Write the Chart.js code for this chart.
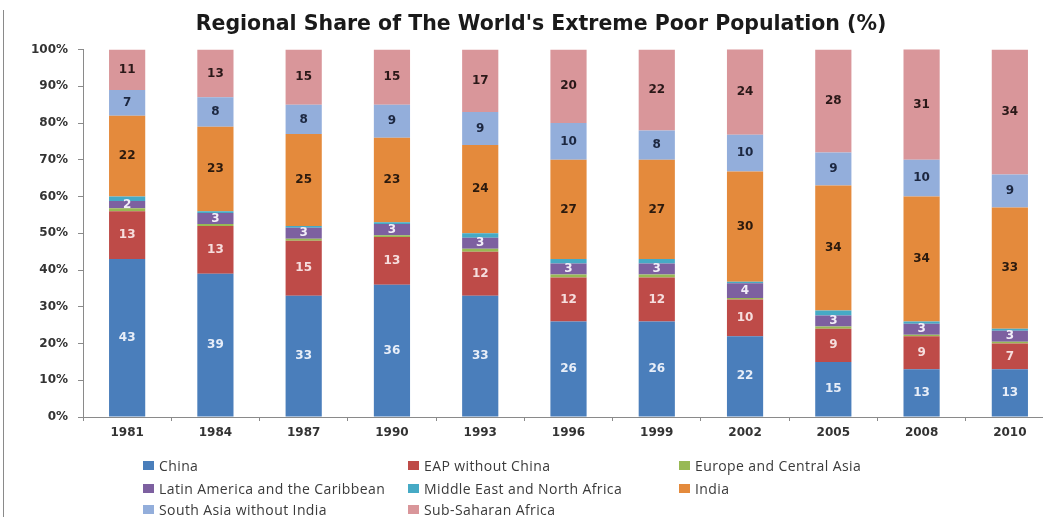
<!DOCTYPE html>
<html>
<head>
<meta charset="utf-8">
<script src="https://cdn.jsdelivr.net/npm/chart.js@4.4.1/dist/chart.umd.min.js"></script>
<style>
    html, body { margin: 0; padding: 0; background: #fff; overflow: hidden; }
    #page { position: relative; width: 1043px; height: 517px; overflow: hidden; }
    #frame { position: absolute; left: 3px; top: 10px; bottom: 0; border-left: 1px solid #8a8a8a; }
    #wrap { position: absolute; left: 0; top: 0; width: 1070px; height: 445px; }
    #legend { position: absolute; left: 0; top: 0; width: 1043px; height: 517px; pointer-events: none; }
    .leg-item {
        position: absolute; display: flex; align-items: center;
        font-family: "Open Sans", Lato, sans-serif; font-size: 14px; color: #3a3a3a;
        white-space: nowrap; letter-spacing: 0.4px;
    }
    .leg-box { width: 11px; height: 9px; margin-right: 5px; }
</style>
</head>
<body>
<div id="page">
    <div id="frame"></div>
    <div id="wrap"><canvas id="povertyChart"></canvas></div>
    <div id="legend"></div>
</div>
<script>
// Годы и доли регионов (%)
const years = ['1981', '1984', '1987', '1990', '1993', '1996', '1999', '2002', '2005', '2008', '2010'];

const china        = [43, 39, 33, 36, 33, 26, 26, 22, 15, 13, 13];
const eapNoChina   = [13, 13, 15, 13, 12, 12, 12, 10, 9, 9, 7];
const europeCA     = [0.8, 0.5, 0.5, 0.5, 0.8, 0.8, 0.8, 0.4, 0.6, 0.4, 0.5];
const latinAmerica = [2, 3, 3, 3, 3, 3, 3, 4, 3, 3, 3];
const middleEastNA = [1.2, 0.5, 0.5, 0.5, 1.2, 1.2, 1.2, 0.4, 1.4, 0.6, 0.5];
const india        = [22, 23, 25, 23, 24, 27, 27, 30, 34, 34, 33];
const southAsia    = [7, 8, 8, 9, 9, 10, 8, 10, 9, 10, 9];
const subSaharan   = [11, 13, 15, 15, 17, 20, 22, 24, 28, 31, 34];

const yTicks = [0, 10, 20, 30, 40, 50, 60, 70, 80, 90, 100];

const AXIS_FONT = { family: '"DejaVu Sans", sans-serif', size: 12, weight: 'bold' };
const PAD_LEFT = 28;

function series(label, data, color, labelColor) {
    return {
        label,
        data,
        backgroundColor: color,
        borderWidth: 0,
        barPercentage: 0.41,
        categoryPercentage: 1,
        labelColor // null = без подписей
    };
}

const datasets = [
    series('China', china, '#4a7ebb', '#e8eef8'),
    series('EAP without China', eapNoChina, '#be4b48', '#f6dede'),
    series('Europe and Central Asia', europeCA, '#98b954', null),
    series('Latin America and the Caribbean', latinAmerica, '#7d60a0', '#f2eef8'),
    series('Middle East and North Africa', middleEastNA, '#46aac5', null),
    series('India', india, '#e48a3c', '#2b1a0e'),
    series('South Asia without India', southAsia, '#93aedb', '#1c2740'),
    series('Sub-Saharan Africa', subSaharan, '#d9969a', '#2a1818')
];

// Подписи значений в центре сегментов
const segmentLabels = {
    id: 'segmentLabels',
    afterDatasetsDraw(chart) {
        const ctx = chart.ctx;
        ctx.save();
        ctx.font = 'bold 12px "DejaVu Sans", sans-serif';
        ctx.textAlign = 'center';
        ctx.textBaseline = 'middle';
        chart.data.datasets.forEach((ds, i) => {
            if (!ds.labelColor) return;
            const meta = chart.getDatasetMeta(i);
            ctx.fillStyle = ds.labelColor;
            meta.data.forEach((bar, j) => {
                const yTop = Math.max(bar.y, chart.chartArea.top);
                ctx.fillText(String(ds.data[j]), bar.x, (yTop + bar.base) / 2);
            });
        });
        ctx.restore();
    }
};

const ctx = document.getElementById('povertyChart').getContext('2d');
const chart = new Chart(ctx, {
    type: 'bar',
    data: { labels: years, datasets },
    plugins: [segmentLabels],
    options: {
        responsive: true,
        maintainAspectRatio: false,
        animation: false,
        layout: { padding: { left: PAD_LEFT, right: 16, top: 0, bottom: 0 } },
        plugins: {
            legend: { display: false },
            tooltip: { enabled: false },
            title: {
                display: true,
                text: "Regional Share of The World's Extreme Poor Population (%)",
                color: '#1a1a1a',
                font: { family: '"DejaVu Sans", sans-serif', size: 20.5, weight: 'bold', lineHeight: 1.2 },
                padding: { top: 12, bottom: 13 }
            }
        },
        scales: {
            x: {
                stacked: true,
                grid: { display: true, drawOnChartArea: false, offset: true, color: '#8a8a8a', tickLength: 4 },
                border: { color: '#8a8a8a' },
                ticks: { color: '#333', font: AXIS_FONT, padding: 5 },
                afterFit(scale) { scale.height = 28; }
            },
            y: {
                stacked: true,
                min: 0,
                max: 100,
                afterBuildTicks(scale) { scale.ticks = yTicks.map(v => ({ value: v })); },
                grid: { display: true, drawOnChartArea: false, color: '#8a8a8a', tickLength: 5 },
                border: { color: '#8a8a8a' },
                ticks: { color: '#333', font: AXIS_FONT, padding: 10, callback: (v) => v + '%' },
                afterFit(scale) { scale.width = 83 - PAD_LEFT; }
            }
        }
    }
});

// Легенда: три колонки
const legendCols = [143, 408, 679];
const legendRows = [466, 489, 510];
const legend = document.getElementById('legend');
datasets.forEach((ds, i) => {
    const item = document.createElement('div');
    item.className = 'leg-item';
    item.style.left = legendCols[i % 3] + 'px';
    item.style.top = (legendRows[Math.floor(i / 3)] - 10) + 'px';
    item.innerHTML = `<span class="leg-box" style="background:${ds.backgroundColor}"></span>${ds.label}`;
    legend.appendChild(item);
});
</script>
</body>
</html>
